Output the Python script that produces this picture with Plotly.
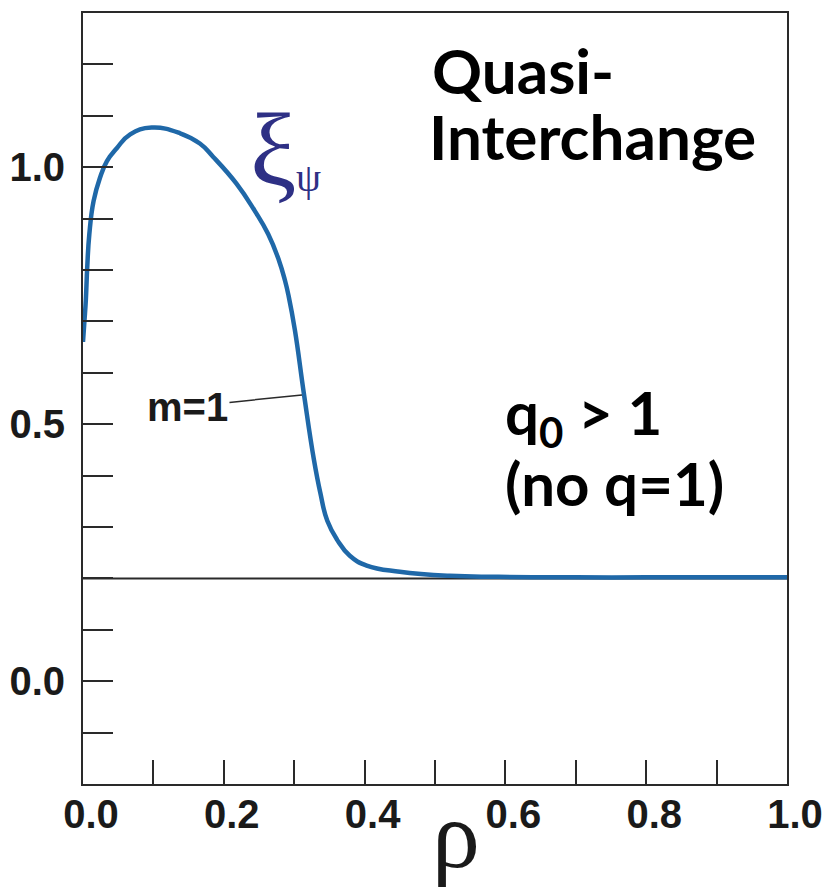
import plotly.graph_objects as go

# ---- data ----
rho = [0.0, 0.002, 0.004, 0.006, 0.009, 0.015, 0.024, 0.034, 0.048, 0.067, 0.0975,
       0.138, 0.166, 0.185, 0.218, 0.244, 0.263, 0.278, 0.287, 0.292, 0.301, 0.314,
       0.328, 0.337, 0.347, 0.361, 0.379, 0.403, 0.450, 0.521, 0.59, 0.70, 0.80, 0.90, 1.0]
xi_psi = [0.66, 0.70, 0.741, 0.805, 0.870, 0.934, 0.979, 1.012, 1.037, 1.064, 1.077,
          1.066, 1.046, 1.020, 0.968, 0.915, 0.870, 0.820, 0.779, 0.750, 0.683, 0.557,
          0.431, 0.367, 0.312, 0.275, 0.244, 0.225, 0.213, 0.205, 0.203, 0.202, 0.202, 0.202, 0.202]

baseline_x = [0.0, 1.0]
baseline_y = [0.2, 0.2]

x_ticks = [round(0.1 * i, 1) for i in range(0, 11)]
x_ticktext = ["0.0", "", "0.2", "", "0.4", "", "0.6", "", "0.8", "", "1.0"]
y_ticks = [round(-0.1 + 0.1 * i, 1) for i in range(0, 14)]
y_ticktext = ["" if v not in (0.0, 0.5, 1.0) else f"{v:.1f}" for v in y_ticks]

CURVE = "#1f68a8"
AXIS = "#2a2a2a"
LABEL_BLUE = "#2e3085"

fig = go.Figure()
fig.add_trace(go.Scatter(x=baseline_x, y=baseline_y, mode="lines",
                         line=dict(color=AXIS, width=2), hoverinfo="skip", showlegend=False))
fig.add_trace(go.Scatter(x=rho, y=xi_psi, mode="lines",
                         line=dict(color=CURVE, width=4.5, shape="spline", smoothing=1.3),
                         showlegend=False))

tick_font = dict(family="Liberation Sans, Arial, sans-serif", size=40, color="#1a1a1a", weight="bold")
geo_font = dict(family="Lato, sans-serif", size=62, color="#000000", weight="bold")

fig.update_layout(
    width=824, height=889,
    margin=dict(l=83, r=37, t=13, b=105, autoexpand=False),
    plot_bgcolor="white", paper_bgcolor="white",
    xaxis=dict(range=[0, 1], tickvals=x_ticks, ticktext=x_ticktext,
               ticks="inside", ticklen=24, tickwidth=2, tickcolor=AXIS,
               showline=True, linecolor=AXIS, linewidth=2, mirror=True,
               showgrid=False, zeroline=False, tickfont=tick_font, automargin=False,
               ticklabelshift=8, ticklabelstandoff=-6),
    yaxis=dict(range=[-0.2, 1.3], tickvals=y_ticks, ticktext=y_ticktext,
               ticks="inside", ticklen=30, tickwidth=2, tickcolor=AXIS,
               showline=True, linecolor=AXIS, linewidth=2, mirror=True,
               showgrid=False, zeroline=False, tickfont=tick_font, automargin=False,
               ticklabelstandoff=8),
)

annotations = [
    dict(text="Quasi-", x=0.493, y=1.19, xanchor="left", yanchor="middle", font=geo_font),
    dict(text="Interchange", x=0.488, y=1.06, xanchor="left", yanchor="middle", font=geo_font),
    dict(text="q<sub>0</sub> > 1", x=0.596, y=0.515, xanchor="left", yanchor="middle",
         font=dict(geo_font, size=60)),
    dict(text="(no q=1)", x=0.596, y=0.385, xanchor="left", yanchor="middle",
         font=dict(geo_font, size=60)),
    dict(text="ξ", x=0.270, y=1.035, xanchor="center", yanchor="middle",
         font=dict(family="Liberation Serif, DejaVu Serif, serif", size=104, color=LABEL_BLUE)),
    dict(text="ψ", x=0.321, y=0.98, xanchor="center", yanchor="middle",
         font=dict(family="Liberation Serif, DejaVu Serif, serif", size=40, color=LABEL_BLUE)),
    dict(text="m=1", x=0.311, y=0.557, ax=0.1484, ay=0.534, axref="x", ayref="y",
         xanchor="center", yanchor="middle", showarrow=True, arrowhead=0,
         arrowwidth=1.5, arrowcolor=AXIS, font=tick_font),
    dict(text="ρ", x=0.53, y=-0.065, xref="x", yref="paper", xanchor="center", yanchor="middle",
         showarrow=False, font=dict(family="Liberation Serif, DejaVu Serif, serif", size=96, color="#1a1a1a")),
]
for a in annotations:
    a.setdefault("xref", "x")
    a.setdefault("yref", "y")
    a.setdefault("showarrow", False)
fig.update_layout(annotations=annotations)

fig.write_html("out.html")
